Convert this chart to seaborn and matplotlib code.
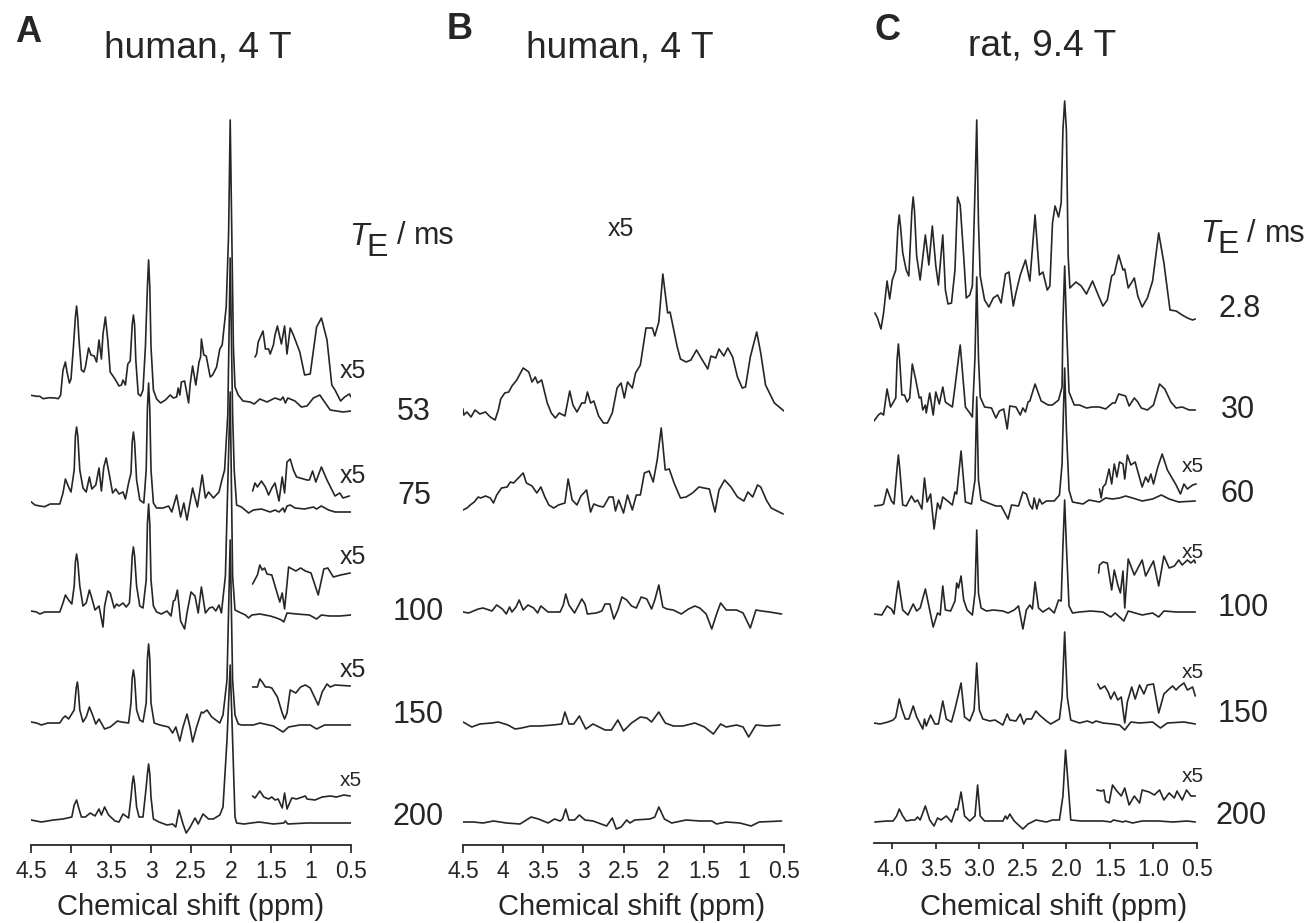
"""Stacked 1H spectra at several echo times, three panels."""

import matplotlib.pyplot as plt
import numpy as np
import pandas as pd
import seaborn as sns

W, H = 1311, 923
INK = "#262626"

A_53 = [(4.50,1.7),(4.43,.7),(4.39,.7),(4.35,-1.7),(4.27,-.7),(4.20,-1),(4.16,-1.7),(4.13,1.7),(4.10,27),(4.07,35),(4.05,25),(4.02,14),(4.00,18),(3.97,50),(3.945,80),(3.93,91),(3.915,78),(3.90,57),(3.87,27),(3.84,25),(3.82,30),(3.78,49),(3.75,42),(3.71,41),(3.68,35),(3.65,57),(3.62,38),(3.60,63),(3.57,80),(3.54,57),(3.51,25),(3.45,18),(3.40,11),(3.37,12),(3.35,17),(3.32,12),(3.29,33),(3.26,36),(3.235,72),(3.22,82),(3.205,72),(3.19,37),(3.16,3),(3.13,1),(3.10,7),(3.07,50),(3.045,110),(3.03,137),(3.015,110),(3.00,50),(2.97,7),(2.93,-2),(2.88,-6),(2.82,-3),(2.76,2),(2.72,-1),(2.68,0),(2.66,9),(2.64,2),(2.62,15),(2.58,16),(2.53,-6),(2.51,13),(2.48,31),(2.44,12),(2.40,35),(2.38,40),(2.37,58),(2.34,42),(2.31,41),(2.26,20),(2.23,22),(2.18,30),(2.14,48),(2.11,52),(2.06,90),(2.03,163),(2.01,277),(1.99,163),(1.97,50),(1.95,10),(1.91,2),(1.85,-4),(1.76,-5),(1.71,-7),(1.64,-2),(1.55,-5),(1.45,-1),(1.38,-3),(1.35,0),(1.32,-6),(1.29,-1),(1.20,-4),(1.12,-10),(1.05,-9),(.97,-1),(.89,2),(.83,-5),(.76,-13),(.68,-14),(.60,-15),(.50,-14)]
A_53_X5 = [(1.70,40),(1.68,43),(1.66,55),(1.60,66),(1.57,48),(1.53,48),(1.51,43),(1.47,52),(1.45,62),(1.42,71),(1.37,53),(1.33,71),(1.30,43),(1.26,69),(1.22,62),(1.14,45),(1.08,22),(1.01,23),(.93,70),(.87,79),(.80,57),(.74,12),(.70,7),(.63,-4),(.58,0),(.52,3),(.50,0)]
A_75 = [(4.5,2.3),(4.45,-1),(4.39,-2),(4.33,-2.7),(4.26,0),(4.14,0),(4.10,11),(4.07,25),(4.03,17),(4.0,12),(3.96,34),(3.945,68),(3.93,77),(3.915,68),(3.89,34),(3.85,16),(3.81,12),(3.77,27),(3.74,15),(3.69,19),(3.65,36),(3.62,13),(3.59,37),(3.56,46),(3.52,29),(3.48,11),(3.44,15),(3.40,10),(3.35,12),(3.32,5),(3.28,21),(3.25,31),(3.235,62),(3.22,72),(3.205,62),(3.18,24),(3.14,4),(3.09,1),(3.06,34),(3.045,95),(3.03,121),(3.015,95),(3.0,34),(2.97,1),(2.93,-4),(2.85,-4),(2.78,-2),(2.74,-8),(2.68,9),(2.63,-13),(2.59,1),(2.55,-16),(2.48,16),(2.42,-3),(2.36,29),(2.32,6),(2.28,12),(2.22,6),(2.15,12),(2.12,22),(2.08,34),(2.04,90),(2.01,246),(1.98,90),(1.96,34),(1.93,-1),(1.87,-3),(1.78,-9),(1.72,-6),(1.62,-5),(1.51,-8),(1.45,-6),(1.40,-8),(1.35,-4),(1.33,-8),(1.30,-2),(1.26,-1),(1.20,-4),(1.08,-5),(.97,-3),(.93,-5),(.87,-2),(.78,-6),(.70,-8),(.60,-8),(.50,-8)]
A_75_X5 = [(1.73,13),(1.70,21),(1.67,17),(1.62,23),(1.57,17),(1.53,9),(1.49,16),(1.45,21),(1.40,3),(1.36,27),(1.33,11),(1.30,42),(1.26,45),(1.22,34),(1.18,27),(1.05,24),(1.02,24),(.98,33),(.94,22),(.87,37),(.80,24),(.70,8),(.64,11),(.60,6),(.52,8)]
A_100 = [(4.5,1),(4.43,0),(4.39,-2),(4.33,0),(4.14,0),(4.10,9),(4.07,17),(4.03,12),(3.99,8),(3.96,26),(3.945,50),(3.93,58),(3.915,50),(3.89,26),(3.85,6),(3.81,9),(3.77,22),(3.74,14),(3.70,2),(3.65,6),(3.60,-15),(3.58,6),(3.54,21),(3.51,19),(3.46,4),(3.43,8),(3.40,6),(3.35,9),(3.31,5),(3.27,9),(3.25,32),(3.235,56),(3.22,65),(3.205,56),(3.18,26),(3.14,6),(3.10,4),(3.06,32),(3.045,88),(3.03,108),(3.015,88),(3.0,32),(2.97,6),(2.93,0),(2.87,-2),(2.80,1),(2.75,-4),(2.72,11),(2.70,12),(2.67,22),(2.63,-9),(2.58,-17),(2.55,-1),(2.50,20),(2.45,16),(2.41,-1),(2.37,25),(2.32,-1),(2.27,4),(2.23,5),(2.19,1),(2.15,7),(2.12,-1),(2.07,36),(2.01,220),(1.98,36),(1.95,2),(1.90,0),(1.82,-3),(1.78,-6),(1.74,-3),(1.64,-2),(1.51,-4),(1.43,-6),(1.37,-8),(1.34,-10),(1.30,-1),(1.18,-2),(1.02,-3),(.93,-7),(.87,-3),(.77,-4),(.64,-4),(.5,-3)]
A_100_X5 = [(1.73,28),(1.67,37),(1.64,47),(1.61,42),(1.58,44),(1.55,38),(1.49,37),(1.42,18),(1.39,10),(1.36,19),(1.33,3),(1.28,45),(1.19,41),(1.13,44),(1.07,41),(1.0,39),(.91,17),(.84,43),(.79,44),(.72,35),(.63,37),(.51,39)]
A_150 = [(4.5,3),(4.43,2),(4.37,0),(4.29,2),(4.14,2),(4.10,7),(4.07,9),(4.03,6),(3.96,15),(3.935,37),(3.92,43),(3.91,36),(3.89,15),(3.85,3),(3.81,8),(3.77,18),(3.73,10),(3.69,1),(3.65,6),(3.58,-4),(3.51,-2),(3.45,2),(3.42,4),(3.37,3),(3.28,2),(3.25,22),(3.235,47),(3.22,55),(3.205,47),(3.18,15),(3.14,5),(3.10,3),(3.06,22),(3.045,66),(3.03,81),(3.015,66),(3.0,22),(2.96,2),(2.89,0),(2.78,-2),(2.73,-8),(2.69,-2),(2.64,-16),(2.60,-2),(2.55,11),(2.51,-3),(2.48,-17),(2.43,-2),(2.37,13),(2.35,12),(2.30,15),(2.24,8),(2.14,2),(2.10,10),(2.05,45),(2.01,185),(1.98,45),(1.95,10),(1.91,1),(1.87,0),(1.72,0),(1.64,2),(1.47,-1),(1.35,-7),(1.28,-2),(1.14,0),(1.01,0),(.93,-4),(.83,0),(.5,0)]
A_150_X5 = [(1.73,38),(1.67,38),(1.64,46),(1.61,43),(1.57,38),(1.53,38),(1.49,37),(1.42,28),(1.36,12),(1.33,6),(1.30,12),(1.26,35),(1.19,32),(1.13,38),(1.07,40),(1.01,37),(.91,20),(.86,33),(.80,41),(.76,38),(.70,40),(.51,39)]
A_200 = [(4.5,2),(4.37,0),(4.22,2),(4.10,3),(3.99,5),(3.96,17),(3.93,22),(3.90,13),(3.87,5),(3.82,5),(3.76,9),(3.70,6),(3.65,13),(3.62,7),(3.58,15),(3.53,7),(3.45,1),(3.40,0),(3.35,8),(3.28,4),(3.25,25),(3.235,38),(3.22,46),(3.205,38),(3.18,15),(3.15,5),(3.10,5),(3.06,35),(3.045,48),(3.03,58),(3.015,48),(3.0,25),(2.97,3),(2.90,0),(2.80,-3),(2.73,-2),(2.69,-5),(2.65,12),(2.60,-2),(2.56,-11),(2.51,-5),(2.45,4),(2.41,-2),(2.35,8),(2.28,3),(2.22,3),(2.14,7),(2.10,15),(2.05,82),(2.01,157),(1.98,82),(1.95,5),(1.93,-1),(1.84,-2),(1.65,0),(1.47,-2),(1.34,-1),(1.32,1),(1.29,-2),(1.05,-1),(.5,-1)]
A_200_X5 = [(1.73,26),(1.70,24),(1.64,31),(1.59,25),(1.53,23),(1.49,25),(1.45,22),(1.41,23),(1.36,14),(1.33,29),(1.30,13),(1.24,24),(1.18,23),(1.07,26),(1.05,23),(.95,22),(.86,25),(.76,26),(.68,25),(.59,27),(.51,26)]

B_53 = [(4.5,1),(4.49,-5),(4.45,-2),(4.40,-7),(4.35,0),(4.29,-4),(4.22,-2),(4.16,-7),(4.10,-10),(4.06,0),(4.03,11),(3.98,17),(3.93,18),(3.89,24),(3.83,30),(3.75,42),(3.68,38),(3.64,28),(3.60,33),(3.57,27),(3.52,30),(3.45,7),(3.40,-3),(3.35,-8),(3.30,-3),(3.23,-6),(3.17,19),(3.13,5),(3.08,-2),(3.02,7),(2.98,7),(2.95,18),(2.91,7),(2.87,9),(2.81,-6),(2.75,-13),(2.70,-13),(2.64,-3),(2.58,22),(2.53,27),(2.49,12),(2.45,28),(2.39,22),(2.35,37),(2.29,45),(2.22,82),(2.14,82),(2.11,74),(2.06,88),(2.01,136),(1.95,97),(1.92,98),(1.83,63),(1.79,51),(1.72,48),(1.66,50),(1.59,60),(1.54,53),(1.45,41),(1.41,54),(1.35,52),(1.31,61),(1.25,54),(1.20,62),(1.14,53),(1.08,33),(1.02,22),(.98,23),(.92,53),(.84,78),(.79,57),(.73,25),(.62,7),(.56,3),(.5,-1)]
B_75 = [(4.5,2),(4.45,4),(4.41,7),(4.36,10),(4.31,15),(4.28,14),(4.22,16),(4.16,14),(4.12,9),(4.08,17),(4.02,24),(3.95,25),(3.91,30),(3.87,29),(3.81,34),(3.75,39),(3.71,29),(3.64,26),(3.58,19),(3.53,25),(3.48,15),(3.43,7),(3.37,4),(3.31,7),(3.23,9),(3.19,33),(3.14,12),(3.08,7),(3.03,16),(2.96,22),(2.91,0),(2.87,8),(2.81,6),(2.75,5),(2.68,15),(2.63,15),(2.60,1),(2.56,12),(2.50,-1),(2.45,17),(2.39,2),(2.34,17),(2.29,17),(2.24,39),(2.18,41),(2.13,30),(2.08,52),(2.03,84),(1.98,42),(1.93,43),(1.87,29),(1.79,14),(1.72,15),(1.64,19),(1.56,25),(1.43,23),(1.36,0),(1.31,22),(1.24,32),(1.16,25),(1.08,15),(1.0,11),(.95,20),(.89,15),(.83,27),(.79,25),(.72,12),(.66,4),(.56,0),(.51,-2)]
B_100 = [(4.5,0),(4.43,-1),(4.37,1),(4.31,3),(4.25,4),(4.14,1),(4.08,7),(4.01,3),(3.96,-2),(3.92,5),(3.89,0),(3.84,5),(3.80,12),(3.75,2),(3.69,7),(3.62,4),(3.57,-1),(3.53,6),(3.44,0),(3.29,0),(3.25,7),(3.22,18),(3.18,7),(3.11,-1),(3.02,13),(2.98,8),(2.95,-2),(2.84,-1),(2.77,1),(2.73,8),(2.67,8),(2.62,-7),(2.57,2),(2.52,15),(2.46,12),(2.40,6),(2.34,4),(2.28,15),(2.21,13),(2.15,3),(2.11,12),(2.06,27),(2.01,5),(1.96,3),(1.88,2),(1.78,-2),(1.69,3),(1.61,6),(1.55,4),(1.47,-2),(1.40,-17),(1.34,-2),(1.29,9),(1.22,2),(1.09,2),(1.01,-1),(.92,-16),(.85,2),(.78,1),(.68,0),(.53,-2)]
B_150 = [(4.5,3),(4.39,-2),(4.29,1),(4.14,2),(4.06,3),(3.94,0),(3.85,-4),(3.77,-3),(3.66,-1),(3.54,-1),(3.38,0),(3.27,1),(3.23,13),(3.18,1),(3.12,1),(3.05,9),(2.97,-4),(2.88,1),(2.73,-5),(2.65,-5),(2.57,5),(2.50,-6),(2.40,2),(2.29,8),(2.21,7),(2.15,3),(2.06,13),(1.98,2),(1.88,-1),(1.76,-1),(1.61,2),(1.49,-2),(1.38,-9),(1.29,1),(1.22,-2),(1.09,0),(1.01,-2),(.94,-12),(.85,0),(.72,-1),(.55,0)]
B_200 = [(4.5,0),(4.37,0),(4.25,-1),(4.12,1),(3.96,-1),(3.79,-2),(3.73,1),(3.65,5),(3.56,3),(3.44,-1),(3.36,3),(3.29,1),(3.26,3),(3.22,13),(3.18,2),(3.11,2),(3.05,7),(2.98,2),(2.88,1),(2.71,-4),(2.64,4),(2.59,-7),(2.53,-5),(2.46,2),(2.42,-1),(2.36,2),(2.17,3),(2.11,5),(2.06,15),(1.99,3),(1.90,-1),(1.72,2),(1.55,1),(1.40,1),(1.34,-2),(1.22,0),(1.05,-1),(.91,-4),(.81,0),(.53,1)]

C_2P8 = [(4.20,6),(4.17,1),(4.13,-10),(4.10,6),(4.06,38),(4.03,20),(4.0,39),(3.96,49),(3.935,92),(3.92,104),(3.905,92),(3.88,66),(3.84,49),(3.81,43),(3.775,108),(3.76,122),(3.745,108),(3.72,63),(3.68,39),(3.62,84),(3.58,54),(3.54,93),(3.50,53),(3.47,34),(3.42,84),(3.39,29),(3.36,15),(3.32,16),(3.28,49),(3.25,122),(3.22,114),(3.18,63),(3.15,21),(3.11,24),(3.08,33),(3.05,129),(3.03,199),(3.01,96),(2.99,43),(2.94,19),(2.89,12),(2.84,21),(2.79,24),(2.75,16),(2.70,45),(2.66,47),(2.61,13),(2.58,26),(2.53,44),(2.47,59),(2.42,38),(2.36,104),(2.31,44),(2.27,47),(2.22,29),(2.19,33),(2.16,96),(2.13,113),(2.09,102),(2.06,116),(2.04,189),(2.02,218),(2.0,189),(1.98,63),(1.96,31),(1.89,37),(1.83,33),(1.77,25),(1.70,38),(1.63,23),(1.58,13),(1.53,19),(1.48,43),(1.45,45),(1.40,64),(1.35,49),(1.33,50),(1.29,31),(1.22,41),(1.18,23),(1.13,12),(1.07,21),(1.01,38),(.94,86),(.88,56),(.81,9),(.74,8),(.67,4),(.61,1),(.55,-1),(.52,0)]
C_30 = [(4.21,-11),(4.16,-5),(4.13,-3),(4.10,-5),(4.06,21),(4.02,3),(3.96,12),(3.945,50),(3.93,66),(3.915,50),(3.89,15),(3.86,15),(3.83,8),(3.80,12),(3.77,46),(3.73,30),(3.69,12),(3.67,13),(3.65,0),(3.62,5),(3.61,-3),(3.57,17),(3.53,-5),(3.50,18),(3.46,6),(3.42,23),(3.39,8),(3.31,3),(3.28,23),(3.235,55),(3.22,65),(3.205,50),(3.16,3),(3.11,-3),(3.08,-7),(3.05,53),(3.03,133),(3.01,53),(2.99,13),(2.94,3),(2.86,2),(2.81,-8),(2.77,-1),(2.72,1),(2.68,-19),(2.65,4),(2.58,3),(2.53,-5),(2.50,2),(2.47,-2),(2.44,8),(2.42,9),(2.36,26),(2.29,9),(2.21,5),(2.16,5),(2.09,10),(2.05,23),(2.04,87),(2.02,144),(2.0,87),(1.97,18),(1.91,5),(1.85,5),(1.77,2),(1.70,3),(1.62,3),(1.55,1),(1.47,7),(1.44,7),(1.40,16),(1.32,14),(1.28,4),(1.22,12),(1.18,8),(1.14,2),(1.07,0),(1.0,5),(.93,26),(.87,21),(.80,8),(.74,2),(.67,3),(.59,0),(.52,0)]
C_60 = [(4.21,-5),(4.12,-4),(4.10,-3),(4.06,12),(4.01,0),(3.98,-3),(3.945,33),(3.93,46),(3.915,33),(3.88,-4),(3.84,-5),(3.78,5),(3.74,-1),(3.71,1),(3.66,-8),(3.63,23),(3.60,-1),(3.56,7),(3.52,-28),(3.48,-2),(3.45,-8),(3.42,4),(3.35,-1),(3.31,-4),(3.28,9),(3.26,7),(3.21,50),(3.16,-1),(3.09,-3),(3.05,21),(3.03,104),(3.01,21),(2.98,1),(2.90,-2),(2.81,-5),(2.75,-5),(2.67,-18),(2.63,-4),(2.55,-5),(2.50,9),(2.46,7),(2.42,-4),(2.39,-8),(2.37,3),(2.34,-8),(2.31,2),(2.28,-3),(2.23,0),(2.14,0),(2.08,6),(2.05,37),(2.04,71),(2.02,133),(2.0,71),(1.97,11),(1.93,-1),(1.87,-2),(1.81,-3),(1.74,1),(1.62,-1),(1.55,3),(1.47,2),(1.39,3),(1.32,5),(1.24,3),(1.13,0),(1.01,2),(.91,6),(.82,2),(.71,-1),(.52,0)]
C_60_X5 = [(1.62,12),(1.60,3),(1.58,14),(1.55,17),(1.51,32),(1.48,17),(1.45,37),(1.42,24),(1.39,39),(1.35,37),(1.33,22),(1.30,46),(1.26,36),(1.21,39),(1.13,14),(1.09,24),(1.06,19),(1.03,27),(1.0,17),(.95,34),(.90,47),(.84,31),(.78,22),(.74,16),(.69,7),(.65,17),(.61,12),(.55,16),(.51,17)]
C_100 = [(4.21,-2),(4.12,-3),(4.06,6),(4.01,3),(3.98,-2),(3.945,22),(3.93,31),(3.915,22),(3.88,2),(3.82,-3),(3.76,8),(3.72,1),(3.68,4),(3.62,23),(3.58,6),(3.53,-15),(3.48,-1),(3.45,-3),(3.42,26),(3.39,2),(3.33,1),(3.28,11),(3.26,29),(3.24,24),(3.21,36),(3.18,12),(3.14,2),(3.08,-3),(3.05,19),(3.03,82),(3.01,19),(2.98,4),(2.92,1),(2.84,2),(2.73,1),(2.67,-1),(2.60,2),(2.55,6),(2.50,-17),(2.46,2),(2.42,7),(2.39,3),(2.36,30),(2.32,4),(2.27,0),(2.20,4),(2.14,-1),(2.09,12),(2.06,11),(2.04,66),(2.02,112),(2.0,66),(1.97,6),(1.93,-1),(1.85,0),(1.72,1),(1.58,0),(1.49,-5),(1.44,-1),(1.39,-5),(1.34,-9),(1.29,1),(1.13,-3),(1.01,-1),(.94,-5),(.88,1),(.74,0),(.52,0)]
C_100_X5 = [(1.63,39),(1.62,47),(1.58,50),(1.53,49),(1.48,22),(1.45,42),(1.41,27),(1.38,19),(1.35,41),(1.33,4),(1.29,53),(1.22,37),(1.13,52),(1.09,36),(1.0,51),(.94,26),(.88,56),(.82,44),(.76,46),(.71,52),(.67,47),(.61,52),(.57,49),(.53,52),(.52,49)]
C_150 = [(4.21,0),(4.14,-1),(4.05,1),(3.99,3),(3.96,6),(3.92,24),(3.89,14),(3.85,4),(3.81,4),(3.76,17),(3.72,6),(3.65,-6),(3.63,4),(3.61,-3),(3.56,8),(3.51,-1),(3.47,-1),(3.42,22),(3.38,4),(3.32,1),(3.28,14),(3.21,40),(3.17,6),(3.11,2),(3.06,13),(3.03,60),(3.0,13),(2.96,4),(2.88,2),(2.82,3),(2.73,-2),(2.68,9),(2.65,3),(2.58,2),(2.53,9),(2.49,-1),(2.46,4),(2.40,4),(2.35,12),(2.31,8),(2.23,2),(2.18,-1),(2.08,4),(2.05,26),(2.02,91),(1.99,26),(1.95,3),(1.85,0),(1.76,2),(1.70,0),(1.66,2),(1.58,0),(1.47,-1),(1.39,-2),(1.33,-7),(1.26,1),(1.16,0),(1.01,1),(.92,-5),(.84,0),(.65,1),(.52,-1)]
C_150_X5 = [(1.64,39),(1.61,34),(1.56,37),(1.52,31),(1.49,24),(1.45,31),(1.41,23),(1.37,26),(1.33,0),(1.30,21),(1.25,36),(1.21,24),(1.16,38),(1.11,29),(1.07,38),(1.0,39),(.94,10),(.88,29),(.82,34),(.78,37),(.74,33),(.71,36),(.65,40),(.61,33),(.55,36),(.52,27)]
C_200 = [(4.20,0),(4.06,1),(3.99,1),(3.95,6),(3.92,13),(3.88,6),(3.84,1),(3.78,2),(3.74,2),(3.71,5),(3.68,2),(3.62,16),(3.57,2),(3.52,-4),(3.48,4),(3.44,2),(3.38,6),(3.32,0),(3.27,13),(3.25,12),(3.21,30),(3.17,6),(3.11,1),(3.05,6),(3.02,37),(2.99,6),(2.94,1),(2.84,1),(2.73,1),(2.70,6),(2.68,3),(2.65,8),(2.60,1),(2.50,-7),(2.44,-2),(2.35,2),(2.23,0),(2.16,2),(2.08,2),(2.04,26),(2.01,72),(1.97,26),(1.95,2),(1.83,1),(1.70,1),(1.58,1),(1.49,0),(1.46,2),(1.35,0),(1.32,1),(1.24,-1),(1.13,1),(.94,1),(.78,0),(.61,1),(.52,0)]
C_200_X5 = [(1.65,32),(1.60,31),(1.57,32),(1.55,21),(1.51,19),(1.47,37),(1.43,32),(1.37,26),(1.33,34),(1.28,17),(1.22,26),(1.16,19),(1.13,32),(1.05,30),(.99,27),(.93,32),(.88,22),(.82,29),(.76,24),(.73,31),(.67,22),(.62,32),(.57,26),(.52,26)]

# baseline height of each trace above the axis line
A_BASE = [448, 341, 233, 120, 23]
B_BASE = [435, 333, 233, 120, 23]
C_BASE = [524, 433, 342, 231, 120, 21]

A_TRACES = [A_53, A_75, A_100, A_150, A_200]
A_INSETS = [A_53_X5, A_75_X5, A_100_X5, A_150_X5, A_200_X5]
B_TRACES = [B_53, B_75, B_100, B_150, B_200]
C_TRACES = [C_2P8, C_30, C_60, C_100, C_150, C_200]
C_INSETS = [None, None, C_60_X5, C_100_X5, C_150_X5, C_200_X5]

AB_TICKS = [4.5, 4, 3.5, 3, 2.5, 2, 1.5, 1, 0.5]
AB_LABELS = ["4.5", "4", "3.5", "3", "2.5", "2", "1.5", "1", "0.5"]
C_TICKS = [4.0, 3.5, 3.0, 2.5, 2.0, 1.5, 1.0, 0.5]
C_LABELS = ["4.0", "3.5", "3.0", "2.5", "2.0", "1.5", "1.0", "0.5"]

sns.set_theme(style="white")
plt.rcParams["font.family"] = ["Liberation Sans", "DejaVu Sans"]


def draw_panel(rect, xlim, traces, insets, bases, ticks, labels, label_x, tick_len, pad):
    """One stack of spectra, y units are pixels above the axis line."""
    left, right, axis_y = rect
    ax = fig.add_axes([left / W, 1 - axis_y / H, (right - left) / W, axis_y / H])
    ax.patch.set_alpha(0)

    for i, (trace, base) in enumerate(zip(traces, bases)):
        spectra = [trace] if insets is None or insets[i] is None else [trace, insets[i]]
        for s in spectra:
            arr = np.array(s)
            df = pd.DataFrame({"ppm": arr[:, 0], "y": arr[:, 1] + base})
            sns.lineplot(data=df, x="ppm", y="y", ax=ax, color=INK, linewidth=1.2,
                         estimator=None, errorbar=None, sort=False)

    ax.set_xlim(*xlim)
    ax.set_ylim(0, axis_y)
    ax.set_yticks([])
    ax.set_ylabel("")
    ax.set_xticks(ticks)
    ax.set_xticklabels(labels)
    ax.tick_params(axis="x", direction="out", length=tick_len, width=1.25, color=INK,
                   labelsize=16.5, labelcolor=INK, pad=pad, bottom=True)
    sns.despine(ax=ax, left=True)
    ax.spines["bottom"].set_linewidth(1.3)
    ax.spines["bottom"].set_color(INK)
    ax.set_xlabel("Chemical shift (ppm)", fontsize=21, color=INK)
    ax.xaxis.set_label_coords((label_x - left) / (right - left), -(907 - axis_y) / axis_y,
                              transform=ax.transAxes)
    ax.xaxis.label.set_verticalalignment("center")
    return ax


def put(x, y, s, size, ha="left", va="center", **kw):
    """Text placed by picture position."""
    fig.text(x / W, 1 - y / H, s, fontsize=size, ha=ha, va=va, color=INK, **kw)


fig = plt.figure(figsize=(W / 100, H / 100), dpi=100, facecolor="white")

draw_panel((31, 351, 845), (4.5, 0.5), A_TRACES, A_INSETS, A_BASE, AB_TICKS, AB_LABELS, 191, 5.8, 5.2)
draw_panel((463, 784, 845), (4.5, 0.5), B_TRACES, None, B_BASE, AB_TICKS, AB_LABELS, 632, 5.8, 5.2)
draw_panel((874, 1197, 843), (4.21, 0.5), C_TRACES, C_INSETS, C_BASE, C_TICKS, C_LABELS, 1054, 4.6, 6)

# panel letters and titles
put(15, 42, "A", 26, va="baseline", weight="bold")
put(447, 39, "B", 26, va="baseline", weight="bold")
put(875, 40, "C", 26, va="baseline", weight="bold")
put(198, 57, "human, 4 T", 26.7, ha="center", va="baseline")
put(620, 57, "human, 4 T", 26.7, ha="center", va="baseline")
put(1042, 55, "rat, 9.4 T", 26.7, ha="center", va="baseline")

# echo time headers
put(349, 245, "T", 23, va="baseline", style="italic")
put(366, 256, "E", 23, va="baseline")
put(397, 244, "/", 22, va="baseline")
put(414, 244, "ms", 22, va="baseline")
put(1200, 242, "T", 23, va="baseline", style="italic")
put(1217, 253, "E", 23, va="baseline")
put(1247, 242, "/", 22, va="baseline")
put(1265, 242, "ms", 22, va="baseline")

# echo times
for y, s in zip([412, 496, 612, 715, 817], ["53", "75", "100", "150", "200"]):
    put(418 if len(s) == 3 else 414, y, s, 22, ha="center")
for y, s in zip([309, 410, 494, 608, 714, 816], ["2.8", "30", "60", "100", "150", "200"]):
    put({"2.8": 1240, "30": 1238, "60": 1238, "200": 1241}.get(s, 1243), y, s, 22, ha="center")

# scale notes
for y in [371, 476, 557, 670]:
    put(340, y, "x5", 18)
put(340, 780, "x5", 15)
put(608, 229, "x5", 18)
for y in [467, 553, 673, 776]:
    put(1182, y, "x5", 15)

fig.savefig("out.png", dpi=100, facecolor="white")
